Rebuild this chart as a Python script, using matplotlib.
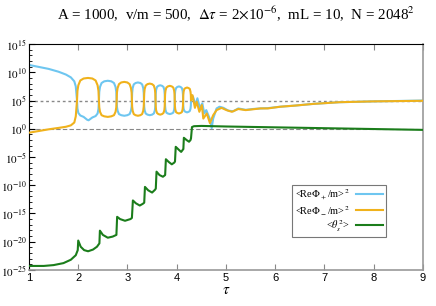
import numpy as np
import matplotlib
matplotlib.use("Agg")
import matplotlib.pyplot as plt

plt.rcParams['font.family'] = ['Liberation Serif', 'DejaVu Serif']
plt.rcParams['mathtext.fontset'] = 'stix'

# log10 values
tau_p = [1.0, 1.2, 1.4, 1.6, 1.75, 1.85, 1.92, 1.95, 1.975,
         1.984, 2.002, 2.042, 2.109, 2.18, 2.21, 2.287, 2.353, 2.393, 2.411, 2.42,
         2.427, 2.442, 2.474, 2.528, 2.60, 2.672, 2.726, 2.758, 2.773, 2.78,
         2.786, 2.799, 2.827, 2.873, 2.935, 2.997, 3.044, 3.071, 3.084, 3.09,
         3.095, 3.105, 3.127, 3.164, 3.2125, 3.262, 3.298, 3.32, 3.33, 3.335,
         3.340, 3.349, 3.370, 3.406, 3.4525, 3.50, 3.535, 3.556, 3.565, 3.57,
         3.574, 3.581, 3.599, 3.627, 3.665, 3.703, 3.732, 3.749, 3.756, 3.76,
         3.764, 3.772, 3.79, 3.82, 3.86, 3.90, 3.93, 3.948, 3.956, 3.96,
         3.963, 3.97, 3.986, 4.011, 4.045, 4.079, 4.105, 4.12, 4.127, 4.13,
         4.133, 4.14, 4.154, 4.178, 4.21, 4.242, 4.266, 4.28, 4.287, 4.29,
         4.33, 4.38, 4.42, 4.47, 4.52, 4.56, 4.6, 4.67, 4.71, 4.74,
         4.81, 4.87, 4.95, 5.05, 5.15, 5.25, 5.4, 5.55, 5.7, 5.85,
         6.1, 6.4, 6.77, 7.3, 8.0, 8.5, 9.0]
logphi_p = [11.3, 10.95, 10.6, 10.1, 9.6, 9.1, 8.4, 7.5, 5.0,
            3.6, 2.8, 2.35, 2.1, 1.6, 1.5, 2.0, 2.25, 2.7, 3.5, 5.0,
            6.5, 7.4, 8.1, 8.4, 8.5, 8.4, 8.1, 7.4, 6.5, 5.0,
            3.9, 3.2, 2.6, 2.4, 2.3, 2.4, 2.6, 3.2, 3.9, 5.0,
            6.35, 7.2, 7.85, 8.1, 8.2, 8.1, 7.85, 7.2, 6.35, 5.0,
            3.9, 3.25, 2.7, 2.5, 2.4, 2.5, 2.7, 3.25, 3.9, 5.0,
            6.15, 6.85, 7.4, 7.6, 7.7, 7.6, 7.4, 6.85, 6.15, 5.0,
            4.0, 3.35, 2.85, 2.7, 2.6, 2.7, 2.85, 3.35, 4.0, 5.0,
            6.05, 6.7, 7.2, 7.4, 7.5, 7.4, 7.2, 6.7, 6.05, 5.0,
            4.1, 3.55, 3.15, 3.0, 2.9, 3.0, 3.15, 3.55, 4.1, 5.0,
            5.7, 4.2, 5.4, 3.7, 4.5, 2.7, 3.3, 1.8, 0.1, 1.8,
            3.6, 3.9, 3.7, 3.2, 3.1, 3.6, 3.35, 3.5, 3.6, 3.65,
            3.9, 4.1, 4.4, 4.7, 4.85, 4.92, 5.0]

tau_m = [1.0, 1.2, 1.4, 1.6, 1.75, 1.85, 1.92, 1.95, 1.975,
         1.984, 2.002, 2.042, 2.109, 2.198, 2.287, 2.353, 2.393, 2.411, 2.42,
         2.427, 2.442, 2.474, 2.528, 2.60, 2.672, 2.726, 2.758, 2.773, 2.78,
         2.786, 2.799, 2.827, 2.873, 2.935, 2.997, 3.044, 3.071, 3.084, 3.09,
         3.095, 3.105, 3.127, 3.164, 3.2125, 3.262, 3.298, 3.32, 3.33, 3.335,
         3.340, 3.349, 3.370, 3.406, 3.4525, 3.50, 3.535, 3.556, 3.565, 3.57,
         3.574, 3.581, 3.599, 3.627, 3.665, 3.703, 3.732, 3.749, 3.756, 3.76,
         3.764, 3.772, 3.79, 3.82, 3.86, 3.90, 3.93, 3.948, 3.956, 3.96,
         3.963, 3.97, 3.986, 4.011, 4.045, 4.079, 4.105, 4.12, 4.127, 4.13,
         4.133, 4.14, 4.154, 4.178, 4.21, 4.242, 4.266, 4.28, 4.287, 4.29,
         4.32, 4.37, 4.405, 4.46, 4.51, 4.54, 4.61, 4.675, 4.74,
         4.81, 4.91, 5.01, 5.12, 5.25, 5.4, 5.55, 5.7, 5.85,
         6.1, 6.4, 6.77, 7.3, 8.0, 8.5, 9.0]
logphi_m = [-0.7, -0.4, -0.1, 0.15, 0.35, 0.6, 1.1, 2.2, 5.0,
            6.7, 7.7, 8.55, 8.9, 9.0, 8.9, 8.55, 7.7, 6.7, 5.0,
            3.8, 3.0, 2.4, 2.2, 2.1, 2.2, 2.4, 3.0, 3.8, 5.0,
            6.4, 7.2, 7.9, 8.2, 8.3, 8.2, 7.9, 7.2, 6.4, 5.0,
            3.9, 3.2, 2.6, 2.4, 2.3, 2.4, 2.6, 3.2, 3.9, 5.0,
            6.25, 7.05, 7.65, 7.9, 8.0, 7.9, 7.65, 7.05, 6.25, 5.0,
            3.95, 3.3, 2.8, 2.6, 2.5, 2.6, 2.8, 3.3, 3.95, 5.0,
            6.1, 6.75, 7.3, 7.5, 7.6, 7.5, 7.3, 6.75, 6.1, 5.0,
            4.05, 3.45, 2.95, 2.8, 2.7, 2.8, 2.95, 3.45, 4.05, 5.0,
            5.95, 6.55, 7.05, 7.2, 7.3, 7.2, 7.05, 6.55, 5.95, 5.0,
            5.95, 3.7, 4.8, 3.0, 4.2, 1.8, 2.7, 1.0, 2.4,
            3.3, 3.7, 3.3, 3.0, 3.5, 3.3, 3.45, 3.6, 3.6,
            3.9, 4.1, 4.4, 4.7, 4.85, 4.9, 4.95]

tau_t = [1.0, 1.3, 1.5, 1.7, 1.85, 1.95, 1.99, 2.0, 2.05, 2.12, 2.2, 2.3, 2.38,
         2.43, 2.44, 2.5, 2.6, 2.7, 2.775, 2.79, 2.85, 2.95, 3.06, 3.09,
         3.11, 3.17, 3.25, 3.31, 3.34, 3.355, 3.42, 3.5, 3.56, 3.575,
         3.59, 3.65, 3.72, 3.765, 3.78, 3.84, 3.9, 3.95, 3.965,
         3.98, 4.04, 4.09, 4.125, 4.135, 4.145, 4.2, 4.25, 4.28, 4.29,
         4.31, 4.35, 4.5, 5.0, 6.0, 7.0, 8.0, 9.0]
logtheta = [-24.3, -24.3, -24.15, -23.8, -23.2, -22.4, -21.5, -19.8, -20.9, -21.5, -21.7, -21.4, -20.9,
            -20.3, -18.05, -18.8, -19.3, -19.1, -18.8, -15.6, -16.0, -16.3, -16.0, -15.8,
            -12.7, -13.2, -13.6, -13.3, -13.1, -10.3, -10.9, -11.3, -10.8, -10.6,
            -7.6, -8.2, -8.5, -8.2, -5.4, -5.9, -6.3, -6.0, -5.8,
            -3.2, -3.7, -4.1, -3.7, -3.6, -1.6, -2.0, -2.3, -2.0, -1.7,
            0.3, 0.45, 0.5, 0.4, 0.25, 0.1, -0.05, -0.2]

labels = [r'<Re$\Phi_+$/m>$^2$', r'<Re$\Phi_-$/m>$^2$', r'<$\theta_s^2$>']
colors = ['#6ec6f0', '#f0b21c', '#1b7d1b']

fig = plt.figure(figsize=(4.36, 3.06), dpi=100)
ax = fig.add_axes([0.0665, 0.118, 0.9035, 0.738])

ax.axhline(1e5, color='#888888', lw=1.0, ls=(0, (2, 2)), zorder=1)
ax.axhline(1e0, color='#888888', lw=0.8, ls=(0, (4, 2)), zorder=1)

ax.plot(tau_p, 10.0 ** np.array(logphi_p), color=colors[0], lw=1.5, label=labels[0], zorder=2)
ax.plot(tau_m, 10.0 ** np.array(logphi_m), color=colors[1], lw=1.5, label=labels[1], zorder=3)
ax.plot(tau_t, 10.0 ** np.array(logtheta), color=colors[2], lw=1.5, label=labels[2], zorder=4)

ax.set_yscale('log')
ax.set_xlim(1, 9)
ax.set_ylim(1e-25, 1e15)
ax.set_yticks([10.0 ** k for k in range(-25, 16, 5)])
ax.set_yticklabels([r'$10^{%d}$' % k for k in range(-25, 16, 5)], fontsize=8)
ax.yaxis.set_minor_locator(matplotlib.ticker.FixedLocator([10.0 ** k for k in range(-25, 16)]))
ax.yaxis.set_minor_formatter(matplotlib.ticker.NullFormatter())
ax.set_xticks(range(1, 10))
ax.set_xticklabels([str(i) for i in range(1, 10)], fontsize=8, family='Liberation Sans')
ax.tick_params(axis='both', which='both', direction='in', top=True, right=False, pad=2)
ax.tick_params(axis='y', which='major', length=4, pad=1.5)
ax.tick_params(axis='y', which='minor', length=2)
ax.tick_params(axis='x', which='major', length=4, color='#888888')

for side in ['left', 'top']:
    ax.spines[side].set_color('black')
for side in ['right', 'bottom']:
    ax.spines[side].set_color('#999999')
    ax.spines[side].set_linewidth(1.2)

ax.set_xlabel(r'$\tau$', fontsize=11, labelpad=1)
fig.suptitle(r'A = 1000,  v/m = 500,  $\Delta\tau$ = 2$\times$10$^{-6}$,  mL = 10,  N = 2048$^2$',
             fontsize=10.8, x=0.54, y=0.985)

leg = ax.legend(loc='upper left', bbox_to_anchor=(0.667, 0.378), markerfirst=False,
                fontsize=7.5, handlelength=2.6, frameon=True, fancybox=False,
                borderpad=0.3, labelspacing=0.2, handletextpad=0.6, borderaxespad=0)
leg.get_frame().set_edgecolor('#555555')
leg.get_frame().set_linewidth(0.8)
for t in leg.get_texts():
    t.set_ha('right')
leg._legend_box.align = 'right'

fig.savefig('out.png', dpi=100)
